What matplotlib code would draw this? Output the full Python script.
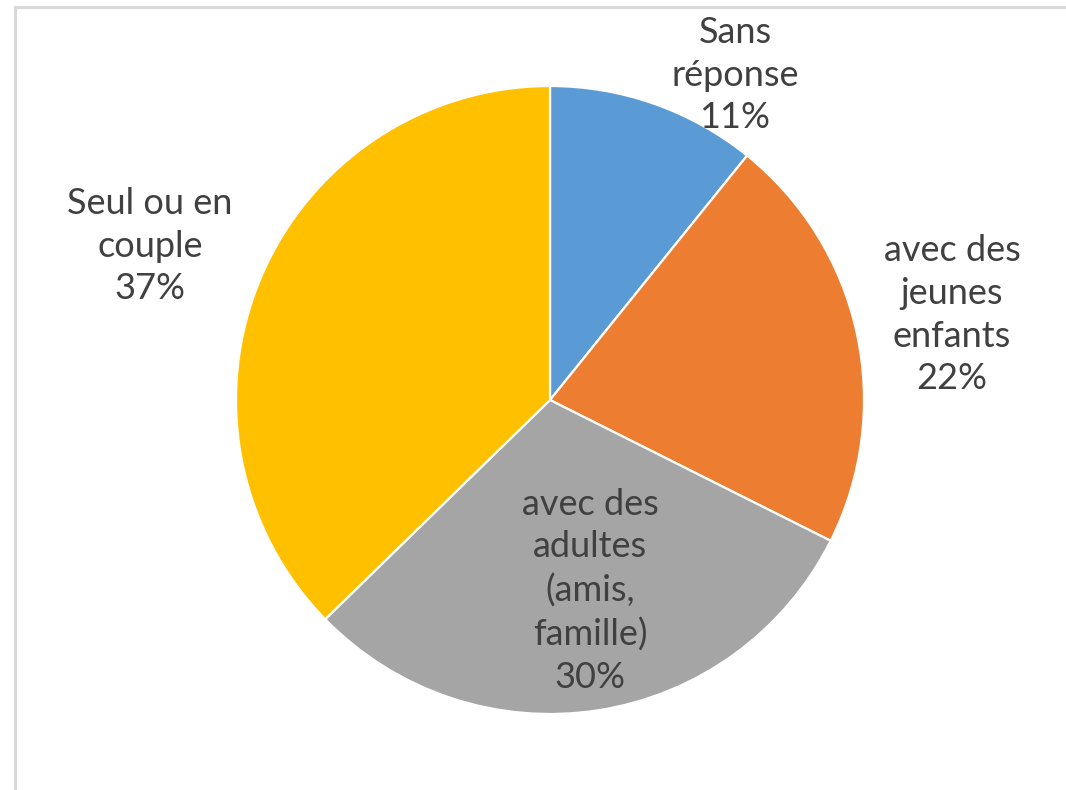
import numpy as np
import matplotlib
matplotlib.use("Agg")
from matplotlib import pyplot as plt
from matplotlib.lines import Line2D

# data
labels = ["Sans\nréponse", "avec des\njeunes\nenfants", "avec des\nadultes\n(amis,\nfamille)", "Seul ou en\ncouple"]
values = [10.8, 21.6, 30.3, 37.3]
colors = ["#5B9BD5", "#ED7D31", "#A5A5A5", "#FFC000"]

# label positions (pie radius = 1)
label_pos = [(0.589, 1.035), (1.280, 0.271), (0.127, -0.608), (-1.274, 0.490)]

plt.rcParams['font.family'] = ['Lato', 'DejaVu Sans']

W, H = 1066, 790
fig = plt.figure(figsize=(W / 100, H / 100), dpi=100)
ax = fig.add_axes([0, 0, 1, 1])

R = 314.0
cx, cy = 550, 400
ax.pie(values, colors=colors, startangle=90, counterclock=False, radius=1,
       wedgeprops=dict(edgecolor="white", linewidth=1.6))
ax.set_xlim(-cx / R, (W - cx) / R)
ax.set_ylim(-(H - cy) / R, cy / R)
ax.set_aspect("auto")
ax.axis("off")

for lab, v, (x, y) in zip(labels, values, label_pos):
    ax.text(x, y, f"{lab}\n{v:.0f}%", ha="center", va="center", fontsize=26,
            color="#404040", linespacing=1.36)

# chart border (top and left)
fig.add_artist(Line2D([15 / W, 1], [1 - 7 / H, 1 - 7 / H], color="#d9d9d9", lw=2.2))
fig.add_artist(Line2D([15 / W, 15 / W], [0, 1 - 7 / H], color="#d9d9d9", lw=2.2))

fig.savefig("out.png", dpi=100, facecolor="white")
